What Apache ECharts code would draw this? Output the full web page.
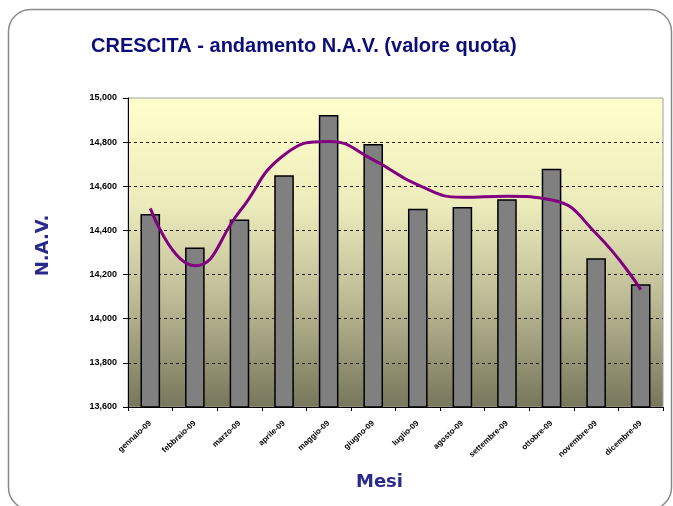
<!DOCTYPE html>
<html>
<head>
<meta charset="utf-8">
<script src="https://cdn.jsdelivr.net/npm/echarts@6/dist/echarts.min.js"></script>
<style>
  html, body { margin: 0; padding: 0; background: #ffffff; }
  #chart { width: 673px; height: 506px; }
</style>
</head>
<body>
<div id="chart"></div>
<script>
// Monthly categories
const months = [
  'gennaio-09', 'febbraio-09', 'marzo-09', 'aprile-09', 'maggio-09', 'giugno-09',
  'luglio-09', 'agosto-09', 'settembre-09', 'ottobre-09', 'novembre-09', 'dicembre-09'
];
// N.A.V. per month (bars)
const navValues = [14475, 14323, 14450, 14650, 14923, 14792, 14498, 14506, 14541, 14680, 14274, 14156];
// Smoothed trend (purple line)
const trendValues = [14500, 14240, 14485, 14742, 14803, 14720, 14606, 14550, 14555, 14538, 14386, 14132];
// Value axis range
const yMin = 13600, yMax = 15000, yStep = 200;

const chart = echarts.init(document.getElementById('chart'), null, { renderer: 'canvas' });

function withCommas(v) {
  return String(v).replace(/\B(?=(\d{3})+(?!\d))/g, ',');
}

chart.setOption({
  animation: false,
  backgroundColor: '#ffffff',
  title: {
    text: 'CRESCITA - andamento N.A.V. (valore quota)',
    left: 86,
    top: 31,
    textStyle: {
      fontFamily: 'Liberation Sans, Arial, sans-serif',
      fontSize: 20,
      fontWeight: 'bold',
      color: '#0c0c7a'
    }
  },
  graphic: [
    {
      type: 'rect',
      silent: true,
      z: -10,
      shape: { x: 8.5, y: 9.5, width: 663, height: 500, r: 22 },
      style: { fill: 'none', stroke: '#8a8a8a', lineWidth: 1.5 }
    }
  ],
  grid: {
    left: 128,
    top: 98,
    right: 10,
    bottom: 99,
    show: true,
    borderColor: '#a0a0a0',
    borderWidth: 1,
    backgroundColor: {
      type: 'linear', x: 0, y: 0, x2: 0, y2: 1,
      colorStops: [
        { offset: 0, color: '#ffffcc' },
        { offset: 0.35, color: '#ecebbb' },
        { offset: 0.65, color: '#bdbb95' },
        { offset: 1, color: '#76765b' }
      ]
    }
  },
  xAxis: {
    type: 'category',
    data: months,
    boundaryGap: true,
    name: 'Mesi',
    nameLocation: 'middle',
    nameGap: 66,
    nameTextStyle: {
      fontFamily: 'DejaVu Sans, sans-serif',
      fontSize: 18,
      fontWeight: 'bold',
      color: '#2a2a8c',
      padding: [0, 32, 0, 0]
    },
    axisLine: { show: true, lineStyle: { color: '#000000', width: 1 } },
    axisTick: { show: true, length: 4, lineStyle: { color: '#000000' } },
    axisLabel: {
      interval: 0,
      rotate: 43,
      margin: 15,
      fontFamily: 'Liberation Sans, Arial, sans-serif',
      fontSize: 8,
      fontWeight: 'bold',
      color: '#000000'
    }
  },
  yAxis: {
    type: 'value',
    min: yMin,
    max: yMax,
    interval: yStep,
    name: 'N.A.V.',
    nameLocation: 'middle',
    nameGap: 76,
    nameRotate: 90,
    nameTextStyle: {
      fontFamily: 'DejaVu Sans, sans-serif',
      fontSize: 18,
      fontWeight: 'bold',
      color: '#2a2a8c',
      padding: [0, 0, 0, 14]
    },
    axisLine: { show: true, lineStyle: { color: '#000000', width: 1 } },
    axisTick: { show: true, length: 5, lineStyle: { color: '#000000' } },
    axisLabel: {
      margin: 11,
      fontFamily: 'Liberation Sans, Arial, sans-serif',
      fontSize: 9,
      fontWeight: 'bold',
      color: '#000000',
      formatter: withCommas
    },
    splitLine: {
      show: true,
      showMinLine: false,
      showMaxLine: false,
      lineStyle: { color: '#222222', type: [3, 3], width: 1 }
    }
  },
  series: [
    {
      type: 'bar',
      data: navValues,
      barWidth: '44%',
      itemStyle: { color: '#808080', borderColor: '#000000', borderWidth: 1.5 },
      z: 2
    },
    {
      type: 'line',
      data: trendValues,
      smooth: 0.5,
      symbol: 'none',
      lineStyle: { color: '#800080', width: 3 },
      z: 3
    }
  ]
});
</script>
</body>
</html>
